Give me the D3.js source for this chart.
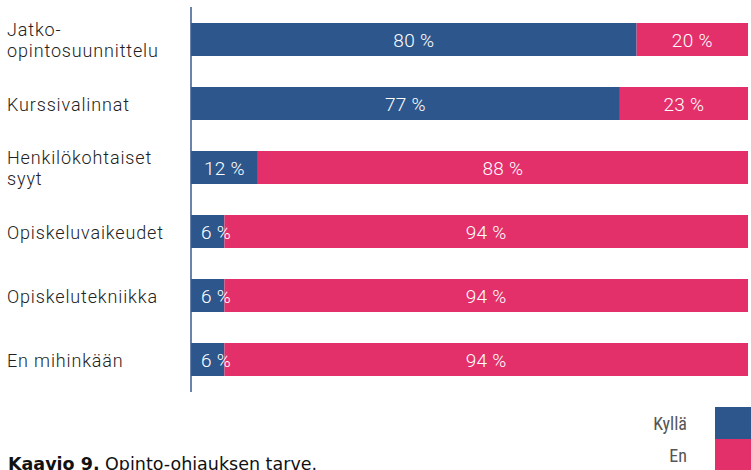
<!DOCTYPE html>
<html>
<head>
<meta charset="utf-8">
<script src="https://cdn.jsdelivr.net/npm/d3@7"></script>
<style>
  body { margin: 0; background: #fff; }
  svg { display: block; }
</style>
</head>
<body>
<div id="chart"></div>
<script>
// data
const categories = [
  ['Jatko-', 'opintosuunnittelu'],
  ['Kurssivalinnat'],
  ['Henkilökohtaiset', 'syyt'],
  ['Opiskeluvaikeudet'],
  ['Opiskelutekniikka'],
  ['En mihinkään']
];
const kylla = [80, 77, 12, 6, 6, 6];
const en = [20, 23, 88, 94, 94, 94];
const seriesNames = ['Kyllä', 'En'];
const colors = ['#2d578c', '#e3306b'];

const width = 751, height = 470;

const svg = d3.select('#chart').append('svg')
  .attr('width', width)
  .attr('height', height);

const x = d3.scaleLinear().domain([0, 100]).range([191, 748]);
const y = d3.scaleBand()
  .domain(d3.range(categories.length))
  .range([23, 23 + 6 * 64 - 31])
  .paddingInner(31 / 64)
  .paddingOuter(0);

const rows = categories.map((c, i) => ({ i, c, k: kylla[i], e: en[i] }));

const g = svg.selectAll('g.row')
  .data(rows)
  .enter().append('g')
  .attr('class', 'row')
  .attr('transform', d => `translate(0,${y(d.i)})`);

// kyllä segment
g.append('rect')
  .attr('x', x(0))
  .attr('width', d => x(d.k) - x(0))
  .attr('height', y.bandwidth())
  .attr('fill', colors[0]);

// en segment
g.append('rect')
  .attr('x', d => x(d.k))
  .attr('width', d => x(d.k + d.e) - x(d.k))
  .attr('height', y.bandwidth())
  .attr('fill', colors[1]);

const valueFont = (sel) => sel
  .attr('fill', '#fff')
  .attr('font-family', 'Roboto, sans-serif')
  .attr('font-weight', 300)
  .attr('font-size', '19px')
  .attr('letter-spacing', '0.3px')
  .attr('text-anchor', 'middle')
  .attr('y', y.bandwidth() / 2 + 7);

g.append('text')
  .call(valueFont)
  .attr('x', d => Math.max((x(0) + x(d.k)) / 2, x(0) + 25))
  .text(d => d.k + ' %');

g.append('text')
  .call(valueFont)
  .attr('x', d => (x(d.k) + x(d.k + d.e)) / 2)
  .text(d => d.e + ' %');

// category labels
g.append('text')
  .attr('font-family', 'Roboto, sans-serif')
  .attr('font-weight', 300)
  .attr('font-size', '18px')
  .attr('fill', '#222')
  .attr('letter-spacing', '0.85px')
  .each(function (d) {
    const t = d3.select(this);
    const mid = y.bandwidth() / 2;
    const start = d.c.length > 1 ? mid - 4 : mid + 7;
    d.c.forEach((line, j) => {
      t.append('tspan')
        .attr('x', 7)
        .attr('y', start + j * 21)
        .text(line);
    });
  });

// vertical axis line
svg.append('line')
  .attr('x1', x(0)).attr('x2', x(0))
  .attr('y1', 7).attr('y2', 392)
  .attr('stroke', '#3a5a8c')
  .attr('stroke-width', 1.5);

// legend
const legend = svg.selectAll('g.legend')
  .data(seriesNames)
  .enter().append('g')
  .attr('class', 'legend')
  .attr('transform', (d, i) => `translate(715,${407 + i * 32})`);

legend.append('rect')
  .attr('width', 40)
  .attr('height', 32)
  .attr('fill', (d, i) => colors[i]);

legend.append('text')
  .attr('x', -28)
  .attr('y', 23)
  .attr('text-anchor', 'end')
  .attr('font-family', '"Liberation Sans Narrow", "Roboto Condensed", sans-serif')
  .attr('font-size', '18px')
  .attr('fill', '#555')
  .text(d => d);

// caption
const cap = svg.append('text')
  .attr('x', 8)
  .attr('y', 470)
  .attr('font-family', '"DejaVu Sans", sans-serif')
  .attr('font-size', '17.5px')
  .attr('fill', '#111');
cap.append('tspan').attr('font-weight', 700).text('Kaavio 9.');
cap.append('tspan').text(' Opinto-ohjauksen tarve.');
</script>
</body>
</html>
